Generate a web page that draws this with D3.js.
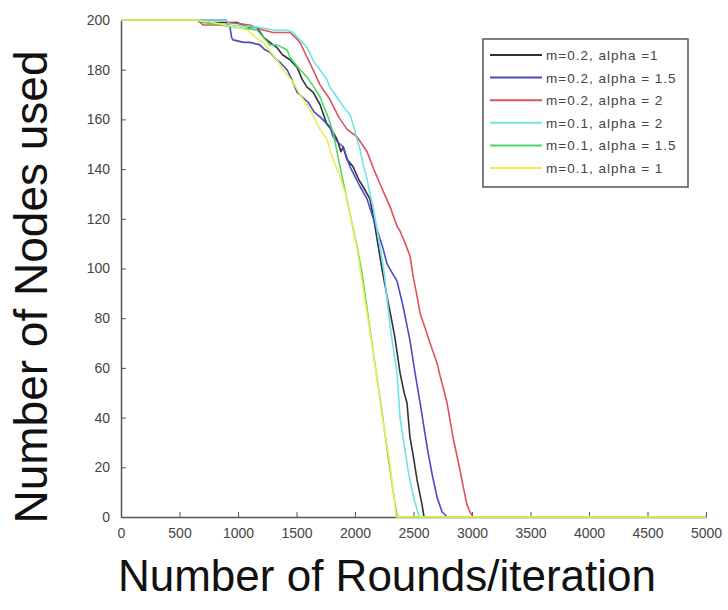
<!DOCTYPE html>
<html>
<head>
<meta charset="utf-8">
<script src="https://cdn.jsdelivr.net/npm/d3@7"></script>
<style>
    body { margin: 0; background: #fff; }
    text { font-family: "Liberation Sans", Arial, sans-serif; }
</style>
</head>
<body>
<div id="chart"></div>
<script>
// Series names (legend order)
const seriesNames = [
    "m=0.2, alpha =1",
    "m=0.2, alpha = 1.5",
    "m=0.2, alpha = 2",
    "m=0.1, alpha = 2",
    "m=0.1, alpha = 1.5",
    "m=0.1, alpha = 1"
];

// [round, nodes used]
const black = [[0,200],[700,200],[760,199],[990,199],[1100,197],[1162,197],[1220,193],[1273,191],[1330,189],[1380,186],[1444,184],[1504,181],[1550,176],[1590,173],[1641,171],[1701,166],[1760,158],[1800,156],[1846,152],[1880,147],[1900,149],[1930,144],[1983,141],[2030,136],[2068,133],[2128,128],[2160,120],[2188,112],[2230,100],[2273,89],[2310,80],[2342,72],[2385,58],[2420,50],[2444,46],[2470,32],[2500,24],[2530,15],[2560,8],[2573,5],[2590,0],[5000,0]];
const blue = [[0,200],[900,200],[932,197],[945,193],[957,192],[1050,191],[1103,191],[1188,190],[1230,188],[1273,187],[1330,184],[1359,183],[1419,180],[1470,175],[1504,171],[1550,169],[1598,167],[1650,163],[1701,161],[1786,157],[1812,153],[1850,151],[1897,149],[1957,141],[2000,137],[2043,133],[2103,128],[2150,121],[2214,112],[2240,108],[2273,102],[2320,98],[2359,95],[2410,85],[2440,78],[2470,71],[2513,58],[2556,46],[2590,36],[2624,26],[2660,17],[2701,8],[2744,2],[2790,0],[5000,0]];
const red = [[0,200],[650,200],[700,198],[900,198],[920,199],[1100,198],[1214,196],[1300,195],[1385,195],[1444,195],[1490,193],[1530,191],[1590,185],[1641,180],[1700,174],[1786,168],[1860,161],[1932,156],[2017,153],[2060,150],[2103,147],[2160,140],[2214,134],[2260,129],[2299,125],[2359,117],[2385,115],[2430,110],[2470,105],[2500,96],[2530,89],[2556,82],[2600,76],[2641,70],[2701,62],[2726,57],[2760,51],[2786,46],[2838,32],[2897,19],[2930,11],[2957,5],[2983,2],[3010,0],[5000,0]];
const cyan = [[0,200],[900,200],[932,198],[1188,197],[1300,196],[1419,196],[1470,195],[1530,192],[1590,189],[1650,183],[1701,180],[1760,176],[1786,173],[1830,170],[1872,167],[1920,164],[1957,162],[1990,157],[2017,152],[2043,148],[2068,142],[2103,136],[2128,130],[2154,125],[2188,116],[2214,109],[2250,98],[2299,77],[2359,58],[2385,40],[2420,29],[2453,19],[2500,8],[2530,3],[2550,0],[5000,0]];
const green = [[0,200],[650,200],[700,199],[990,197],[1162,196],[1273,190],[1333,190],[1419,188],[1444,185],[1530,180],[1590,177],[1650,173],[1701,169],[1769,161],[1812,155],[1850,146],[1890,137],[1957,122],[2017,109],[2060,98],[2103,84],[2160,65],[2231,42],[2290,22],[2340,6],[2362,0],[5000,0]];
const yellow = [[0,200],[640,200],[786,199],[1000,197],[1077,196],[1150,193],[1214,191],[1280,187],[1333,184],[1400,179],[1470,175],[1530,170],[1615,164],[1701,156],[1760,152],[1803,145],[1872,137],[1932,128],[1957,122],[2017,108],[2103,82],[2160,65],[2231,41],[2300,21],[2352,0],[5000,0]];

const seriesData = [black, blue, red, cyan, green, yellow];
const seriesColors = ["#333333", "#4b4bc8", "#d9545c", "#70e4e4", "#4ed868", "#eeee50"];

const xTicks = d3.range(0, 5001, 500);
const yTicks = d3.range(0, 201, 20);

const width = 728, height = 610, margin = { top: 20, right: 22, bottom: 93, left: 121 };
const svg = d3.select("#chart").append("svg").attr("width", width).attr("height", height);

const x = d3.scaleLinear().domain([0, 5000]).range([margin.left, width - margin.right]);
const y = d3.scaleLinear().domain([0, 200]).range([height - margin.bottom, margin.top]);

// Axes (MATLAB style, ticks pointing inward, no box)
const xAxis = svg.append("g").attr("transform", `translate(0,${y(0)})`)
    .call(d3.axisBottom(x).tickValues(xTicks).tickFormat(d3.format("d")).tickSizeInner(-5).tickSizeOuter(0).tickPadding(11));
const yAxis = svg.append("g").attr("transform", `translate(${x(0)},0)`)
    .call(d3.axisLeft(y).tickValues(yTicks).tickFormat(d3.format("d")).tickSizeInner(-5).tickSizeOuter(0).tickPadding(11));

[xAxis, yAxis].forEach(g => {
    g.selectAll("path").attr("stroke", "#555").attr("stroke-width", 1.5);
    g.selectAll("line").attr("stroke", "#555");
    g.selectAll("text").attr("fill", "#444").style("font-size", "14px");
});

// Lines
const line = d3.line().x(d => x(d[0])).y(d => y(d[1]));
svg.append("g").selectAll("path").data(seriesData).enter().append("path")
    .attr("d", line)
    .attr("fill", "none")
    .attr("stroke", (d, i) => seriesColors[i])
    .attr("stroke-width", 1.6)
    .attr("stroke-linejoin", "round");

// Legend
const legend = svg.append("g").attr("transform", "translate(483,39)");
legend.append("rect").attr("width", 205).attr("height", 148)
    .attr("fill", "#fff").attr("stroke", "#555").attr("stroke-width", 1.5);
seriesNames.forEach((name, i) => {
    const ly = 16 + i * 22.6;
    legend.append("line").attr("x1", 7).attr("x2", 59).attr("y1", ly).attr("y2", ly)
        .attr("stroke", seriesColors[i]).attr("stroke-width", 2);
    legend.append("text").attr("x", 63).attr("y", ly + 5).attr("fill", "#444")
        .style("font-size", "13.5px").style("letter-spacing", "1px").text(name);
});

// Axis titles
svg.append("text").attr("x", 387).attr("y", 591).attr("text-anchor", "middle")
    .attr("fill", "#111").style("font-size", "44px").text("Number of Rounds/iteration");
svg.append("text").attr("x", -287).attr("y", 47).attr("text-anchor", "middle")
    .attr("transform", "rotate(-90)").attr("fill", "#111").style("font-size", "46px").text("Number of Nodes used");
</script>
</body>
</html>
